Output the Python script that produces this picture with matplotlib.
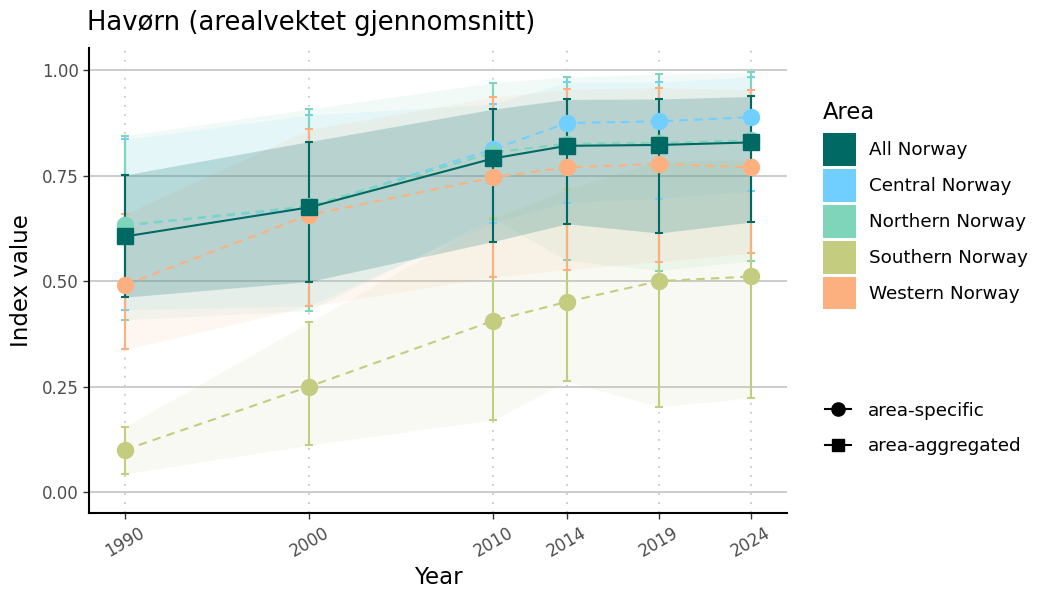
import matplotlib
matplotlib.use("Agg")
import matplotlib.pyplot as plt
from matplotlib.patches import Patch
from matplotlib.lines import Line2D

plt.rcParams['font.family'] = ['DejaVu Sans']

years = [1990, 2000, 2010, 2014, 2019, 2024]
areas = ["Central Norway", "Northern Norway", "Southern Norway", "Western Norway"]

# area-specific estimates and bounds
central = [0.632, 0.675, 0.813, 0.875, 0.879, 0.889]
central_lo = [0.432, 0.441, 0.639, 0.686, 0.696, 0.713]
central_hi = [0.836, 0.894, 0.920, 0.972, 0.973, 0.984]

northern = [0.633, 0.678, 0.805, 0.826, 0.828, 0.834]
northern_lo = [0.408, 0.430, 0.648, 0.549, 0.525, 0.548]
northern_hi = [0.845, 0.908, 0.971, 0.984, 0.991, 0.995]

southern = [0.100, 0.250, 0.406, 0.451, 0.500, 0.511]
southern_lo = [0.043, 0.111, 0.171, 0.262, 0.202, 0.223]
southern_hi = [0.155, 0.402, 0.649, 0.718, 0.785, 0.788]

western = [0.491, 0.657, 0.746, 0.770, 0.778, 0.770]
western_lo = [0.338, 0.440, 0.509, 0.527, 0.546, 0.566]
western_hi = [0.659, 0.860, 0.936, 0.955, 0.959, 0.954]

# area-aggregated (All Norway)
all_norway = [0.606, 0.675, 0.791, 0.821, 0.823, 0.829]
all_lo = [0.462, 0.499, 0.594, 0.636, 0.614, 0.640]
all_hi = [0.752, 0.831, 0.908, 0.931, 0.932, 0.938]

colors = {
    "All Norway": "#006964",
    "Central Norway": "#70CFFF",
    "Northern Norway": "#7FD5BA",
    "Southern Norway": "#C4CC80",
    "Western Norway": "#FDB07F",
}

area_data = {
    "Central Norway": (central, central_lo, central_hi),
    "Northern Norway": (northern, northern_lo, northern_hi),
    "Southern Norway": (southern, southern_lo, southern_hi),
    "Western Norway": (western, western_lo, western_hi),
}

fig = plt.figure(figsize=(10.5, 6), dpi=100)
ax = fig.add_axes([0.0848, 0.145, 0.6647, 0.775])

# grid
for y in [0, 0.25, 0.5, 0.75, 1.0]:
    ax.axhline(y, color="#C8C8C8", lw=1.3, zorder=0)
for x in years:
    ax.axvline(x, color="#C8C8C8", lw=1.3, ls=(0, (1, 4)), zorder=0)

# ribbons
for name, (v, lo, hi) in area_data.items():
    ax.fill_between(years, lo, hi, color=colors[name], alpha=0.1, lw=0, zorder=1)
ax.fill_between(years, all_lo, all_hi, color=colors["All Norway"], alpha=0.2, lw=0, zorder=1)

# error bars
for name, (v, lo, hi) in area_data.items():
    yerr = [[a - b for a, b in zip(v, lo)], [b - a for a, b in zip(v, hi)]]
    ax.errorbar(years, v, yerr=yerr, fmt="none", ecolor=colors[name],
                elinewidth=1.5, capsize=3.2, capthick=1.5, zorder=2)
yerr = [[a - b for a, b in zip(all_norway, all_lo)], [b - a for a, b in zip(all_norway, all_hi)]]
ax.errorbar(years, all_norway, yerr=yerr, fmt="none", ecolor=colors["All Norway"],
            elinewidth=1.5, capsize=3.2, capthick=1.5, zorder=3)

# lines and points
for name, (v, lo, hi) in area_data.items():
    ax.plot(years, v, color=colors[name], lw=1.5, ls=(0, (4, 3)), zorder=4)
    ax.plot(years, v, color=colors[name], lw=0, marker="o", ms=11.5, zorder=5)
ax.plot(years, all_norway, color=colors["All Norway"], lw=1.5, zorder=6)
ax.plot(years, all_norway, color=colors["All Norway"], lw=0, marker="s", ms=11, zorder=7)

ax.set_xlim(1988.04, 2025.96)
ax.set_ylim(-0.05, 1.053)
ax.set_xticks(years)
ax.set_xticklabels([str(y) for y in years], rotation=30, fontsize=12, color="#4D4D4D")
ax.set_yticks([0, 0.25, 0.5, 0.75, 1.0])
ax.set_yticklabels(["0.00", "0.25", "0.50", "0.75", "1.00"], fontsize=12, color="#4D4D4D")
ax.tick_params(axis="both", length=4, width=1, color="#333333")
for s in ["top", "right"]:
    ax.spines[s].set_visible(False)
for s in ["left", "bottom"]:
    ax.spines[s].set_linewidth(1.5)
ax.set_xlabel("Year", fontsize=16.5, labelpad=4)
ax.set_ylabel("Index value", fontsize=16.5, labelpad=6)
ax.set_title("Havørn (arealvektet gjennomsnitt)", fontsize=18.6, loc="left", x=-0.003, pad=13)

# legends
names = ["All Norway"] + areas
fig.text(0.784, 0.8017, "Area", fontsize=16.3, va="baseline", ha="left")
h1 = [Patch(facecolor=colors[n], edgecolor="none") for n in names]
leg1 = fig.legend(h1, names, loc="upper left", bbox_to_anchor=(0.768, 0.806),
                  frameon=False, fontsize=13.2, handlelength=1.8,
                  handleheight=2.39, labelspacing=0.16, handletextpad=0.71)
h2 = [Line2D([], [], color="black", marker="o", ms=9.5, lw=1.5),
      Line2D([], [], color="black", marker="s", ms=8.5, lw=1.5)]
leg2 = fig.legend(h2, ["area-specific", "area-aggregated"], loc="upper left",
                  bbox_to_anchor=(0.77, 0.358), frameon=False, fontsize=13.2,
                  handlelength=1.42, labelspacing=0.95, handletextpad=0.93)

fig.savefig("out.png", dpi=100)
